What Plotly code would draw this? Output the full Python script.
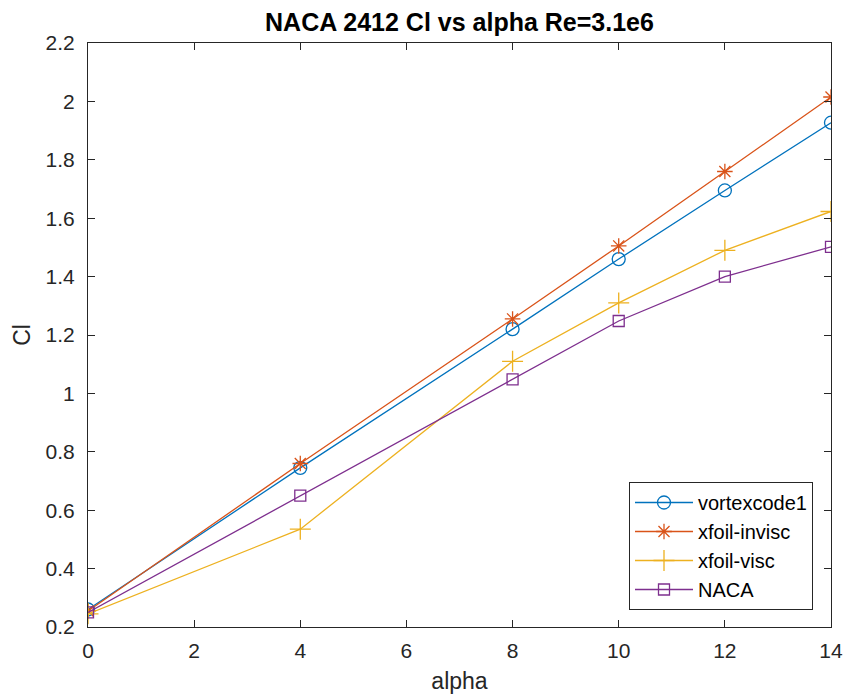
import plotly.graph_objects as go

alpha = [0, 4, 8, 10, 12, 14]
vortexcode1 = [0.26, 0.745, 1.22, 1.46, 1.695, 1.927]
xfoil_invisc = [0.255, 0.76, 1.255, 1.505, 1.76, 2.015]
xfoil_visc = [0.245, 0.535, 1.11, 1.31, 1.49, 1.623]
naca = [0.25, 0.65, 1.048, 1.248, 1.40, 1.502]

series = [
    ("vortexcode1", vortexcode1, "#0072BD", "circle-open", 13),
    ("xfoil-invisc", xfoil_invisc, "#D95319", "asterisk-open", 13),
    ("xfoil-visc", xfoil_visc, "#EDB120", "cross-thin-open", 15),
    ("NACA", naca, "#7E2F8E", "square-open", 11),
]

FONT = "Liberation Sans, Arial, sans-serif"

fig = go.Figure()
for name, y, color, sym, size in series:
    fig.add_trace(go.Scatter(
        x=alpha, y=y, name=name, mode="lines+markers",
        line=dict(color=color, width=1.3),
        marker=dict(symbol=sym, size=size, color=color, line=dict(color=color, width=1.3)),
    ))

axis_common = dict(
    showline=True, linecolor="#262626", linewidth=1, mirror="ticks",
    ticks="inside", ticklen=7, tickcolor="#262626", showgrid=False, zeroline=False,
    tickfont=dict(family=FONT, size=21, color="#262626"),
)

fig.update_layout(
    width=845, height=699,
    margin=dict(l=88, r=14, t=43, b=72, autoexpand=False),
    paper_bgcolor="white", plot_bgcolor="white",
    title=dict(text="<b>NACA 2412 Cl vs alpha Re=3.1e6</b>", x=(88 + 831) / 2 / 845, xanchor="center",
               xref="container", yref="container", y=1 - 22 / 699, yanchor="middle",
               font=dict(family=FONT, size=25, color="#000000")),
    xaxis=dict(range=[0, 14], tickvals=[0, 2, 4, 6, 8, 10, 12, 14],
               ticklabelstandoff=5,
               title=dict(text="alpha", font=dict(family=FONT, size=23, color="#262626"), standoff=11),
               **axis_common),
    yaxis=dict(range=[0.2, 2.2], tickvals=[0.2, 0.4, 0.6, 0.8, 1, 1.2, 1.4, 1.6, 1.8, 2, 2.2],
               ticktext=["0.2", "0.4", "0.6", "0.8", "1", "1.2", "1.4", "1.6", "1.8", "2", "2.2"],
               ticklabelstandoff=8,
               title=dict(text="Cl", font=dict(family=FONT, size=23, color="#262626"), standoff=8),
               **axis_common),
    legend=dict(x=(813 - 88) / 743, y=(627 - 610) / 584, xanchor="right", yanchor="bottom",
                bordercolor="#262626", borderwidth=1, bgcolor="white",
                font=dict(family=FONT, size=20, color="#000000"),
                tracegroupgap=0, itemwidth=58),
    showlegend=True,
)

fig.write_html("out.html", config={"displayModeBar": False},
               post_script="document.body.style.margin='0px';document.body.style.overflow='hidden';")
